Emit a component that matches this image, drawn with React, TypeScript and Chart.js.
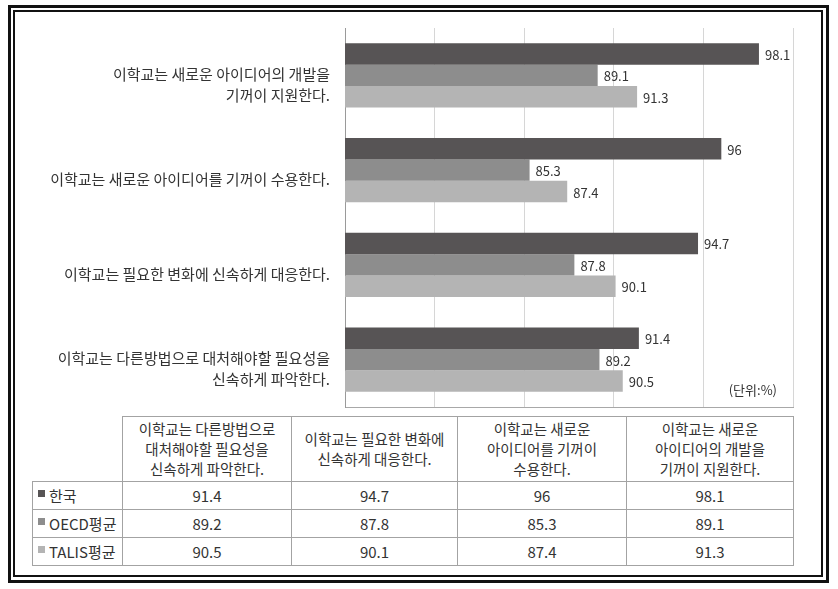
import React, { useEffect, useRef } from "react";
import { Chart, registerables } from "chart.js";

Chart.register(...registerables);

// ---- data ----
const categories: string[][] = [
  ["이학교는 다른방법으로 대처해야할 필요성을", "신속하게 파악한다."],
  ["이학교는 필요한 변화에 신속하게 대응한다."],
  ["이학교는 새로운 아이디어를 기꺼이 수용한다."],
  ["이학교는 새로운 아이디어의 개발을", "기꺼이 지원한다."],
];
const tableHeaders: string[][] = [
  ["이학교는 다른방법으로", "대처해야할 필요성을", "신속하게 파악한다."],
  ["이학교는 필요한 변화에", "신속하게 대응한다."],
  ["이학교는 새로운", "아이디어를 기꺼이", "수용한다."],
  ["이학교는 새로운", "아이디어의 개발을", "기꺼이 지원한다."],
];
const seriesNames = ["한국", "OECD평균", "TALIS평균"];
const koreaValues = [91.4, 94.7, 96, 98.1];
const oecdValues = [89.2, 87.8, 85.3, 89.1];
const talisValues = [90.5, 90.1, 87.4, 91.3];
const axisMin = 75;
const axisMax = 100;
const axisStep = 5;
const unitLabel = "(단위:%)";

const seriesValues = [koreaValues, oecdValues, talisValues];
const seriesColors = ["#575455", "#8d8d8d", "#b4b4b4"];
const FONT = '"Noto Sans CJK KR", "Noto Sans", sans-serif';
const TEXT = "#333333";

const valueLabels = {
  id: "valueLabels",
  afterDatasetsDraw(chart: any) {
    const ctx = chart.ctx;
    ctx.save();
    ctx.font = `13px ${FONT}`;
    ctx.fillStyle = TEXT;
    ctx.textBaseline = "middle";
    ctx.textAlign = "left";
    chart.data.datasets.forEach((ds: any, di: number) => {
      const meta = chart.getDatasetMeta(di);
      meta.data.forEach((bar: any, i: number) => {
        ctx.fillText(String(ds.data[i]), bar.x + 6, bar.y + 1);
      });
    });
    const area = chart.chartArea;
    ctx.textAlign = "right";
    ctx.fillText(unitLabel, area.right - 16, area.bottom - 17);
    ctx.restore();
  },
};

function BarChart() {
  const ref = useRef<HTMLCanvasElement>(null);
  useEffect(() => {
    if (!ref.current) return;
    const chart = new Chart(ref.current, {
      type: "bar",
      data: {
        labels: categories,
        datasets: seriesNames.map((name, i) => ({
          label: name,
          data: seriesValues[i],
          backgroundColor: seriesColors[i],
          borderWidth: 0,
          categoryPercentage: 0.68,
          barPercentage: 1,
        })),
      },
      options: {
        indexAxis: "y",
        responsive: false,
        animation: false,
        layout: { padding: { top: 16, right: 28, bottom: 5, left: 0 } },
        plugins: { legend: { display: false }, tooltip: { enabled: false } },
        scales: {
          x: {
            min: axisMin,
            max: axisMax,
            ticks: { display: false, stepSize: axisStep },
            grid: { color: "#d6d6d6", drawTicks: false },
            border: { display: true, color: "#a8a8a8" },
            afterFit: (s: any) => {
              s.height = 0;
              s.paddingLeft = 0;
              s.paddingRight = 0;
            },
          },
          y: {
            reverse: true,
            grid: { display: false, drawTicks: false },
            border: { display: true, color: "#9a9a9a" },
            ticks: {
              color: TEXT,
              font: { family: FONT, size: 15, lineHeight: 1.4 },
              padding: 15,
              labelOffset: (c: any) => [13, 5, 12, 7][c.index] ?? 9,
            },
            afterFit: (s: any) => {
              s.width = 330;
              s.paddingTop = 0;
              s.paddingBottom = 0;
            },
          },
        },
      },
      plugins: [valueLabels],
    });
    return () => chart.destroy();
  }, []);
  return (
    <canvas
      ref={ref}
      width={806}
      height={400}
      style={{ position: "absolute", left: 15, top: 12, width: 806, height: 400 }}
    />
  );
}

export default function App() {
  const border = "1px solid #a3a3a3";
  const colWidths = [90, 169, 166, 169, 167];
  return (
    <div style={{ position: "absolute", left: 0, top: 0, width: 838, height: 589, background: "#fff", fontFamily: FONT, color: TEXT }}>
      <div style={{ position: "absolute", left: 8, top: 5, width: 821, height: 578, border: "3px solid #111", boxSizing: "border-box" }} />
      <div style={{ position: "absolute", left: 13, top: 10, width: 810, height: 567, border: "2px solid #111", boxSizing: "border-box" }} />
      <BarChart />
      <table
        style={{
          position: "absolute",
          left: 32,
          top: 416,
          borderCollapse: "collapse",
          tableLayout: "fixed",
          width: colWidths.reduce((a, b) => a + b, 0),
          fontSize: 14.5,
          color: TEXT,
        }}
      >
        <colgroup>
          {colWidths.map((w, i) => (
            <col key={i} style={{ width: w }} />
          ))}
        </colgroup>
        <tbody>
          <tr style={{ height: 65 }}>
            <td style={{ borderTop: "none", borderLeft: "none", padding: 0 }} />
            {tableHeaders.map((lines, i) => (
              <td key={i} style={{ border, textAlign: "center", verticalAlign: "middle", lineHeight: "20px", padding: 0 }}>
                {lines.map((l, j) => (
                  <div key={j}>{l}</div>
                ))}
              </td>
            ))}
          </tr>
          {seriesNames.map((name, si) => (
            <tr key={si} style={{ height: 28 }}>
              <td style={{ border, padding: "0 0 0 5px", whiteSpace: "nowrap", fontSize: 15 }}>
                <span
                  style={{
                    display: "inline-block",
                    width: 7,
                    height: 7,
                    background: seriesColors[si],
                    marginRight: 4,
                    verticalAlign: 5,
                  }}
                />
                {name}
              </td>
              {seriesValues[si].map((v, ci) => (
                <td key={ci} style={{ border, textAlign: "center", padding: 0, fontSize: 15 }}>
                  {String(v)}
                </td>
              ))}
            </tr>
          ))}
        </tbody>
      </table>
    </div>
  );
}
